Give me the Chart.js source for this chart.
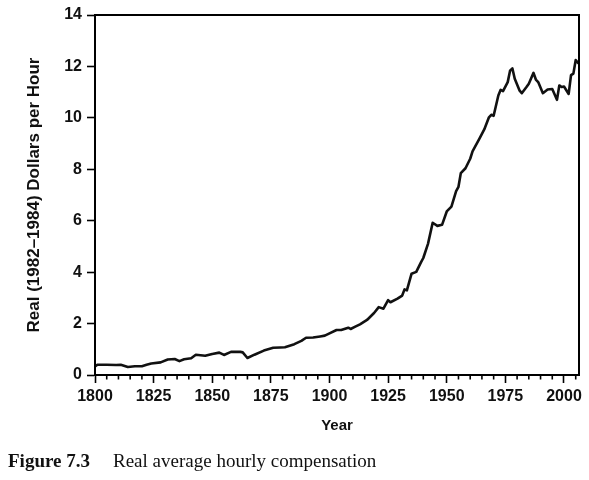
<!DOCTYPE html>
<html>
<head>
<meta charset="utf-8">
<script src="https://cdn.jsdelivr.net/npm/chart.js@4.4.1/dist/chart.umd.min.js"></script>
<style>
  html, body { margin: 0; padding: 0; background: #fff; }
  #wrap { position: relative; width: 589px; height: 480px; overflow: hidden; }
  #c { position: absolute; left: 0; top: 0; }
  #caption { position: absolute; left: 8px; top: 450px; font-family: "Liberation Serif", "Times New Roman", serif; font-size: 19px; color: #111; white-space: nowrap; }
  #caption b { display: inline-block; width: 105px; }
</style>
</head>
<body>
<div id="wrap">
  <canvas id="c" width="589" height="480"></canvas>
  <div id="caption"><b>Figure 7.3</b>Real average hourly compensation</div>
</div>
<script>
// Years (x) and real average hourly compensation in 1982–1984 dollars (y)
const years = [1800, 1801, 1805, 1809, 1811, 1814, 1817, 1820, 1822, 1824, 1828, 1831, 1834, 1836, 1838, 1841, 1843, 1847, 1850, 1853, 1855, 1858, 1862, 1863, 1865, 1868, 1872, 1876, 1879, 1881, 1885, 1888, 1890, 1893, 1896, 1898, 1900, 1903, 1905, 1908, 1909, 1911, 1913, 1916, 1919, 1921, 1923, 1925, 1926, 1929, 1931, 1932, 1933, 1935, 1937, 1939, 1940, 1942, 1944, 1946, 1948, 1950, 1952, 1954, 1955, 1956, 1958, 1960, 1961, 1964, 1966, 1968, 1969, 1970, 1972, 1973, 1974, 1976, 1977, 1978, 1979, 1981, 1982, 1984, 1985, 1987, 1988, 1989, 1991, 1993, 1995, 1997, 1998, 1999, 2000, 2002, 2003, 2004, 2005, 2006];
const wages = [0.33, 0.40, 0.40, 0.39, 0.40, 0.31, 0.34, 0.34, 0.40, 0.45, 0.49, 0.60, 0.62, 0.54, 0.61, 0.65, 0.79, 0.75, 0.82, 0.87, 0.78, 0.90, 0.90, 0.88, 0.66, 0.79, 0.95, 1.06, 1.07, 1.08, 1.20, 1.33, 1.45, 1.46, 1.50, 1.53, 1.62, 1.75, 1.75, 1.84, 1.79, 1.88, 1.97, 2.14, 2.41, 2.64, 2.58, 2.91, 2.83, 2.97, 3.09, 3.33, 3.29, 3.94, 4.01, 4.38, 4.55, 5.10, 5.92, 5.80, 5.84, 6.36, 6.55, 7.15, 7.32, 7.85, 8.04, 8.41, 8.70, 9.20, 9.55, 10.02, 10.12, 10.08, 10.87, 11.09, 11.04, 11.39, 11.83, 11.92, 11.52, 11.07, 10.96, 11.20, 11.33, 11.75, 11.49, 11.39, 10.96, 11.10, 11.12, 10.70, 11.26, 11.20, 11.22, 10.93, 11.66, 11.72, 12.25, 12.14];

const xMin = 1800, xMax = 2006.4, xMajorStep = 25, xMinorStep = 5;
const yMin = 0, yMax = 14, yStep = 2;
const xTitle = 'Year';
const yTitle = 'Real (1982–1984) Dollars per Hour';

const points = years.map((yr, i) => ({ x: yr, y: wages[i] }));

const frameAndMinorTicks = {
  id: 'frameAndMinorTicks',
  afterDraw(chart) {
    const { ctx, chartArea: a, scales: { x } } = chart;
    ctx.save();
    ctx.strokeStyle = '#000';
    ctx.lineWidth = 2;
    ctx.strokeRect(a.left, a.top, a.right - a.left, a.bottom - a.top);
    ctx.lineWidth = 1.6;
    for (let yr = xMin + xMinorStep; yr <= xMax; yr += xMinorStep) {
      if ((yr - xMin) % xMajorStep === 0) continue;
      const px = x.getPixelForValue(yr);
      ctx.beginPath();
      ctx.moveTo(px, a.bottom);
      ctx.lineTo(px, a.bottom + 4.5);
      ctx.stroke();
    }
    ctx.restore();
  }
};

const tickFont = { family: '"Liberation Sans", Arial, sans-serif', size: 16, weight: 'bold' };
const xTitleFont = { family: '"Liberation Sans", Arial, sans-serif', size: 15, weight: 'bold' };
const yTitleFont = { family: '"Liberation Sans", Arial, sans-serif', size: 17, weight: 'bold' };

new Chart(document.getElementById('c'), {
  type: 'line',
  data: {
    datasets: [{
      data: points,
      borderColor: '#111',
      borderWidth: 2.6,
      pointRadius: 0,
      tension: 0,
      borderJoinStyle: 'round',
      borderCapStyle: 'round',
      fill: false
    }]
  },
  options: {
    responsive: false,
    animation: false,
    devicePixelRatio: 1,
    layout: { padding: { left: 0, right: 10, top: 15, bottom: 45 } },
    plugins: { legend: { display: false }, tooltip: { enabled: false } },
    scales: {
      x: {
        type: 'linear',
        min: xMin,
        max: xMax,
        afterFit(scale) { scale.height = 60; },
        ticks: {
          stepSize: xMajorStep,
          includeBounds: false,
          color: '#111',
          font: tickFont,
          padding: 4,
          maxRotation: 0,
          callback: v => String(v)
        },
        grid: { drawOnChartArea: false, drawTicks: true, tickLength: 8, color: '#000', tickWidth: 1.6 },
        border: { display: true, color: '#000', width: 2 },
        title: { display: true, text: xTitle, color: '#111', font: xTitleFont, padding: { top: 0, bottom: 0 } }
      },
      y: {
        type: 'linear',
        min: yMin,
        max: yMax,
        afterFit(scale) { scale.width = 95; },
        ticks: { stepSize: yStep, color: '#111', font: tickFont, padding: 5 },
        grid: { drawOnChartArea: false, drawTicks: true, tickLength: 8, color: '#000', tickWidth: 1.6 },
        border: { display: true, color: '#000', width: 2 },
        title: { display: true, text: yTitle, color: '#111', font: yTitleFont, padding: { top: 24, bottom: 0 } }
      }
    }
  },
  plugins: [frameAndMinorTicks]
});
</script>
</body>
</html>
